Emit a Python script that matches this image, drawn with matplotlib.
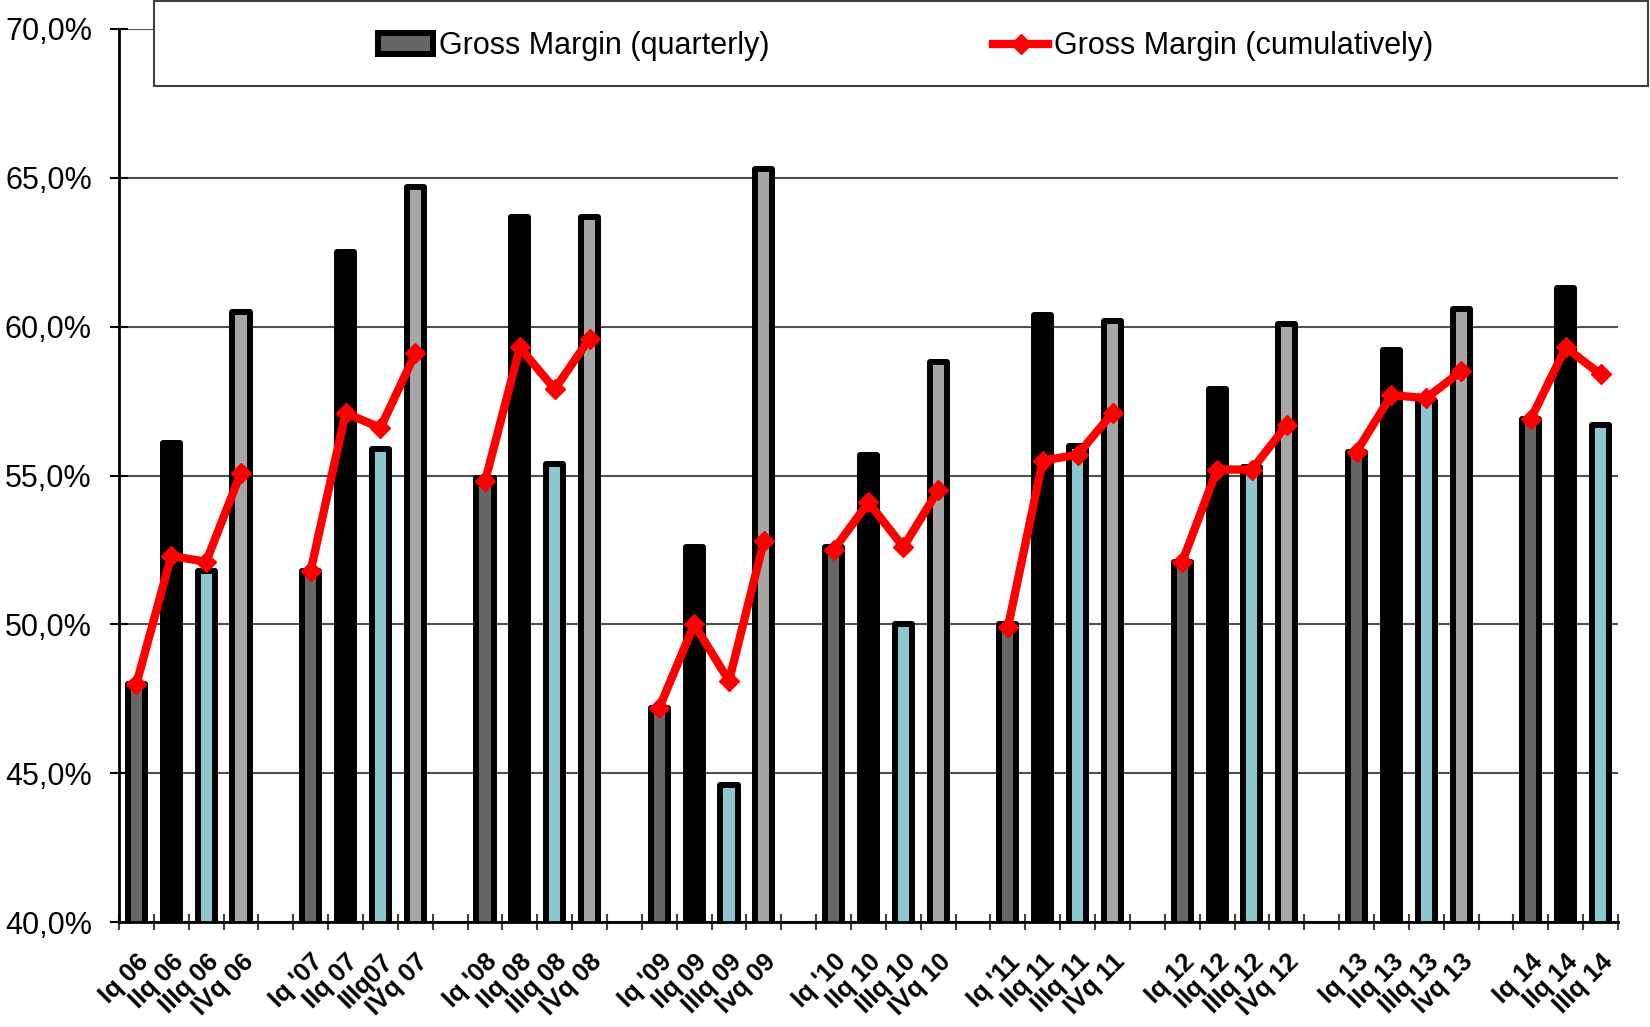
import numpy as np
import matplotlib.pyplot as plt
from matplotlib.patches import Rectangle, Patch
from matplotlib.lines import Line2D
from matplotlib.ticker import FuncFormatter, FixedLocator

plt.rcParams['font.family'] = ['Liberation Sans', 'DejaVu Sans']

# categories (blank slot between years, as in the original sheet)
labels = ["Iq 06", "IIq 06", "IIIq 06", "IVq 06", "",
          "Iq '07", "IIq 07", "IIIq07", "IVq 07", "",
          "Iq '08", "IIq 08", "IIIq 08", "IVq 08", "",
          "Iq '09", "IIq 09", "IIIq 09", "Ivq 09", "",
          "Iq '10", "IIq 10", "IIIq 10", "IVq 10", "",
          "Iq '11", "IIq 11", "IIIq 11", "IVq 11", "",
          "Iq 12", "IIq 12", "IIIq 12", "IVq 12", "",
          "Iq 13", "IIq 13", "IIIq 13", "Ivq 13", "",
          "Iq 14", "IIq 14", "IIIq 14"]

# gross margin per quarter, %
quarterly = [48.0, 56.1, 51.8, 60.5, None,
             51.8, 62.5, 55.9, 64.7, None,
             54.9, 63.7, 55.4, 63.7, None,
             47.2, 52.6, 44.6, 65.3, None,
             52.6, 55.7, 50.0, 58.8, None,
             50.0, 60.4, 56.0, 60.2, None,
             52.1, 57.9, 55.3, 60.1, None,
             55.8, 59.2, 57.5, 60.6, None,
             56.9, 61.3, 56.7]

# gross margin year to date, %
cumulative = [48.0, 52.3, 52.1, 55.1, None,
              51.8, 57.1, 56.6, 59.1, None,
              54.8, 59.3, 57.9, 59.6, None,
              47.2, 50.0, 48.1, 52.8, None,
              52.5, 54.1, 52.6, 54.5, None,
              49.9, 55.5, 55.7, 57.1, None,
              52.1, 55.2, 55.2, 56.7, None,
              55.8, 57.7, 57.6, 58.5, None,
              56.9, 59.3, 58.4]

q_colors = ['#666666', '#000000', '#8CC7CF', '#A6A6A6']

fig = plt.figure(figsize=(16.5, 10.27), dpi=100)
ax = fig.add_axes([0.0721, 0.1022, 0.9085, 0.8696])

x = np.arange(len(labels))
for i, v in enumerate(quarterly):
    if v is None:
        continue
    ax.bar(x[i], v, width=0.49, color=q_colors[i % 5], edgecolor='black',
           linewidth=4.3, joinstyle='round', zorder=3)

cum = np.array([np.nan if c is None else c for c in cumulative])
ax.plot(x, cum, color='#FF0000', lw=6, marker='D', ms=10, zorder=4)

ax.set_xlim(-0.5, len(labels) - 0.5)
ax.set_ylim(40, 70)
ax.set_yticks(np.arange(40, 71, 5))
ax.yaxis.set_major_formatter(FuncFormatter(lambda v, p: f"{v:.1f}%".replace('.', ',')))
ax.grid(axis='y', color='#505050', lw=1.5, zorder=1)

ax.set_xticks(x)
ax.set_xticklabels(labels, rotation=45, ha='right', rotation_mode='anchor',
                   fontweight='bold', fontsize=18.5)
ax.tick_params(axis='x', which='major', length=0, pad=20)
ax.xaxis.set_minor_locator(FixedLocator(np.arange(-0.5, len(labels), 1)))
ax.tick_params(axis='x', which='minor', direction='inout', length=11, width=1.5, color='#404040')
ax.tick_params(axis='y', direction='inout', length=13, width=1.5, labelsize=22, pad=13)

for s in ['top', 'right']:
    ax.spines[s].set_visible(False)
for s in ['left', 'bottom']:
    ax.spines[s].set_linewidth(2)
    ax.spines[s].set_zorder(5)

# legend box across the top
box = Rectangle((154 / 1650, 1 - 86 / 1027), (1648 - 154) / 1650, 85 / 1027,
                transform=fig.transFigure, facecolor='white', edgecolor='#404040',
                lw=1.5, zorder=4)
fig.patches.append(box)
handles = [Patch(facecolor='#666666', edgecolor='black', lw=4.3),
           Line2D([], [], color='#FF0000', lw=6, marker='D', ms=10)]
leg = fig.legend(handles, ['Gross Margin (quarterly)', 'Gross Margin (cumulatively)'],
                 loc='center', bbox_to_anchor=(0.549, 0.955), ncol=2, frameon=False,
                 fontsize=22, handlelength=1.8, handletextpad=0.2, columnspacing=7.3)
leg.set_zorder(6)

fig.savefig('out.png', dpi=100)
